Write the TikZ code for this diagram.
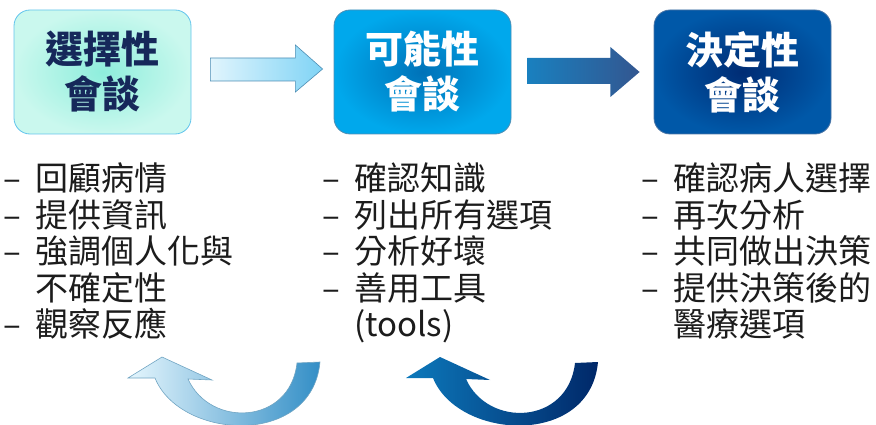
\documentclass[tikz,border=0pt]{standalone}
\usepackage{fontspec}
\setmainfont{Noto Sans CJK TC}
\usetikzlibrary{calc}
\definecolor{mintin}{HTML}{8EEEDC}
\definecolor{mintout}{HTML}{CAF8EE}
\definecolor{mintline}{HTML}{62C4EC}
\definecolor{skyin}{HTML}{0072B8}
\definecolor{skyout}{HTML}{00A8EC}
\definecolor{skyline}{HTML}{4E8EB4}
\definecolor{navyin}{HTML}{002C74}
\definecolor{navyout}{HTML}{0058A8}
\definecolor{navyline}{HTML}{4A74A4}
\definecolor{titleink}{HTML}{16285A}
\definecolor{listink}{HTML}{1C1C1C}
\newcommand\itm{\makebox[32pt][l]{–}}
\newcommand\gap{\hspace*{32pt}}
\begin{document}
\begin{tikzpicture}[x=1pt, y=-1pt,
    talk/.style = {rounded corners=16pt, minimum width=177pt, minimum height=124pt,
                   align=center, inner sep=0pt, line width=0.8pt,
                   font=\fontsize{38}{45}\selectfont\bfseries},
    todo/.style = {anchor=north west, align=left, inner sep=0pt, text=listink,
                   font=\fontsize{33}{36.5}\selectfont}]
  \useasboundingbox (0,0) rectangle (876,425);
  % the three talks
  \node[talk, draw=mintline, inner color=mintin, outer color=mintout, text=titleink] (sel) at (102.5,72) {選擇性\\會談};
  \node[talk, draw=skyline, inner color=skyin, outer color=skyout, text=white] (pos) at (422.5,72) {可能性\\會談};
  \node[talk, draw=navyline, inner color=navyin, outer color=navyout, text=white] (dec) at (742.5,72) {決定性\\會談};
  % forward arrows
  \path[draw=skyline, line width=0.6pt, left color=skyout!12, right color=skyout!50]
    ($(sel.east)+(19,-14)$) -- ++(85,0) -- ++(0,-13) -- ($(pos.west)+(-11,-3)$)
    -- ($(sel.east)+(104,20)$) -- ++(0,-11) -- ++(-85,0) -- cycle;
  \path[left color=skyin!90, right color=navyin!80]
    ($(pos.east)+(16,-14)$) -- ++(83,0) -- ++(0,-11) -- ($(dec.west)+(-14,0)$)
    -- ($(pos.east)+(99,25)$) -- ++(0,-13) -- ++(-83,0) -- cycle;
  % what is done in each talk
  \node[todo] (sellist) at (3,163) {\itm 回顧病情\\\itm 提供資訊\\\itm 強調個人化與\\\gap 不確定性\\\itm 觀察反應};
  \node[todo] (poslist) at (322,163) {\itm 確認知識\\\itm 列出所有選項\\\itm 分析好壞\\\itm 善用工具\\\gap (tools)};
  \node[todo] (declist) at (641,163) {\itm 確認病人選擇\\\itm 再次分析\\\itm 共同做出決策\\\itm 提供決策後的\\\gap 醫療選項};
  % arrows going back
  \path[draw=skyline!80, line width=0.6pt, left color=skyout!10, right color=skyin!80]
    (155,378) -- (128,378) -- (162,357) -- (212,380) -- (188,379)
    .. controls (210,428) and (290,425) .. (297,363) -- (320,362)
    .. controls (312,448) and (180,440) .. (155,378) -- cycle;
  \begin{scope}[xshift=278pt]
    \path[left color=skyin!95, right color=navyin!90!black]
      (155,378) -- (128,378) -- (162,357) -- (212,380) -- (188,379)
      .. controls (210,428) and (290,425) .. (297,363) -- (320,362)
      .. controls (312,448) and (180,440) .. (155,378) -- cycle;
  \end{scope}
\end{tikzpicture}
\end{document}
